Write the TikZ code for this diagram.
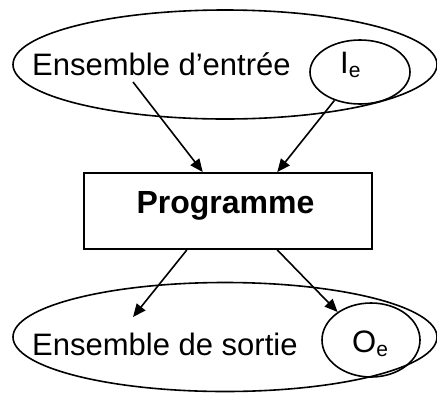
\documentclass[tikz,border=0pt]{standalone}
\usepackage{fontspec}
\setmainfont{Liberation Sans}
\usetikzlibrary{shapes.geometric,arrows.meta,calc}
% lowered small index letter, as in I_e and O_e
\newcommand\lowidx[1]{\raisebox{-4pt}{\fontsize{21}{21}\selectfont #1}}
\begin{document}
\begin{tikzpicture}[x=1pt,y=-1pt,
  setshape/.style={ellipse, draw, line width=1.6pt, inner sep=0pt},
  lbl/.style={anchor=base west, inner sep=0pt, font=\fontsize{31}{37}\selectfont},
  flow/.style={line width=1.6pt, -{Triangle[length=13pt,width=11pt]}},
  progbox/.style={draw, line width=1.9pt, minimum width=288pt, minimum height=76pt, inner sep=0pt}]
\useasboundingbox (0,0) rectangle (437,392);

% input set with its element
\node[setshape, minimum width=424pt, minimum height=109pt] (inset) at (225,64.5) {};
\node[setshape, minimum width=100pt, minimum height=64pt] (ie) at (360,72) {};
\node[lbl] (intext) at (32,75) {Ensemble d’entrée};
\node[lbl] (ietext) at (340,73) {I\lowidx{e}};

% the program
\node[progbox] (prog) at (228,211) {};
\node[anchor=base, inner sep=0pt, font=\bfseries\fontsize{32}{38}\selectfont] (progtext) at (225.5,213) {Programme};

% output set with its element
\node[setshape, minimum width=424pt, minimum height=109pt] (outset) at (225,337) {};
\node[setshape, minimum width=98pt, minimum height=74pt] (oe) at (371,340) {};
\node[lbl] (outtext) at (32,355) {Ensemble de sortie};
\node[lbl] (oetext) at (352,352) {O\lowidx{e}};

% connectors
\coordinate (from-in) at (133,82);
\coordinate (to-out) at (133,317);
\draw[flow] (from-in) -- ($(prog.north west)!0.413!(prog.north east)$);
\draw[flow] (ie.-132) -- ($(prog.north west)!0.67!(prog.north east)$);
\draw[flow] ($(prog.south west)!0.358!(prog.south east)$) -- (to-out);
\draw[flow] ($(prog.south west)!0.67!(prog.south east)$) -- (oe.140);
\end{tikzpicture}
\end{document}
